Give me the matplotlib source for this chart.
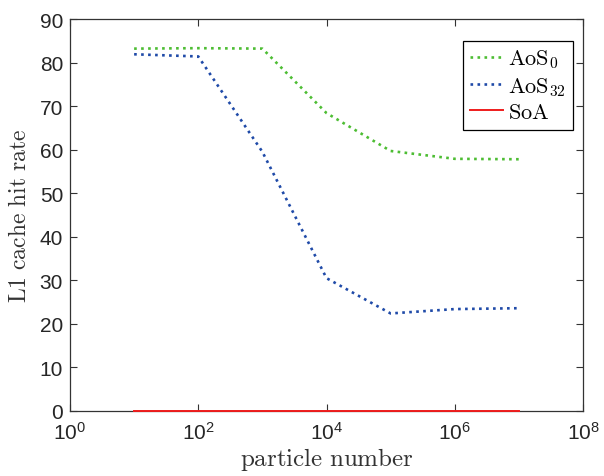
import matplotlib
matplotlib.use("Agg")
import matplotlib.pyplot as plt

plt.rcParams['mathtext.fontset'] = 'cm'
plt.rcParams['font.family'] = 'Liberation Sans'

particles = [1e1, 1e2, 1e3, 1e4, 1e5, 1e6, 1e7]
aos0 = [83.2, 83.3, 83.2, 68.4, 59.7, 57.9, 57.8]
aos32 = [81.9, 81.4, 59.5, 30.5, 22.4, 23.4, 23.6]
soa = [0, 0, 0, 0, 0, 0, 0]

fig = plt.figure(figsize=(6.04, 4.77), dpi=100)
# axes box in pixels: left 70, right 583, top 20, bottom 412
ax = fig.add_axes([70 / 604, 65 / 477, 513 / 604, 392 / 477])

ax.plot(particles, aos0, ':', color='#4dbd33', lw=1.9, label=r'$\mathrm{AoS}_0$')
ax.plot(particles, aos32, ':', color='#1f4aa8', lw=1.9, label=r'$\mathrm{AoS}_{32}$')
ax.plot(particles, soa, '-', color='#ee1c1c', lw=1.4, label=r'$\mathrm{SoA}$', clip_on=False, zorder=5)

ax.set_xscale('log')
ax.set_xlim(1, 1e8)
ax.set_ylim(0, 90)
ax.set_xticks([1e0, 1e2, 1e4, 1e6, 1e8])
ax.set_yticks(range(0, 91, 10))
ax.minorticks_off()
ax.tick_params(direction='in', top=True, right=True, labelsize=15, length=5, width=0.8,
               colors='#333333', labelcolor='#262626')
ax.tick_params(axis='x', pad=7)
ax.tick_params(axis='y', pad=5)
for s in ax.spines.values():
    s.set_linewidth(0.9)
    s.set_color('#333333')

ax.set_xlabel(r'$\mathrm{particle\ number}$', fontsize=18, color='#333333', labelpad=2)
ax.set_ylabel(r'$\mathrm{L1\ cache\ hit\ rate}$', fontsize=17, color='#333333', labelpad=6)

leg = ax.legend(loc='upper right', bbox_to_anchor=(0.9805, 0.944), borderaxespad=0,
                fontsize=16, fancybox=False, edgecolor='black', framealpha=1,
                handlelength=1.5, borderpad=0.3, labelspacing=0.2, handletextpad=0.25)
leg.get_frame().set_linewidth(0.9)

fig.savefig('out.png', dpi=100)
